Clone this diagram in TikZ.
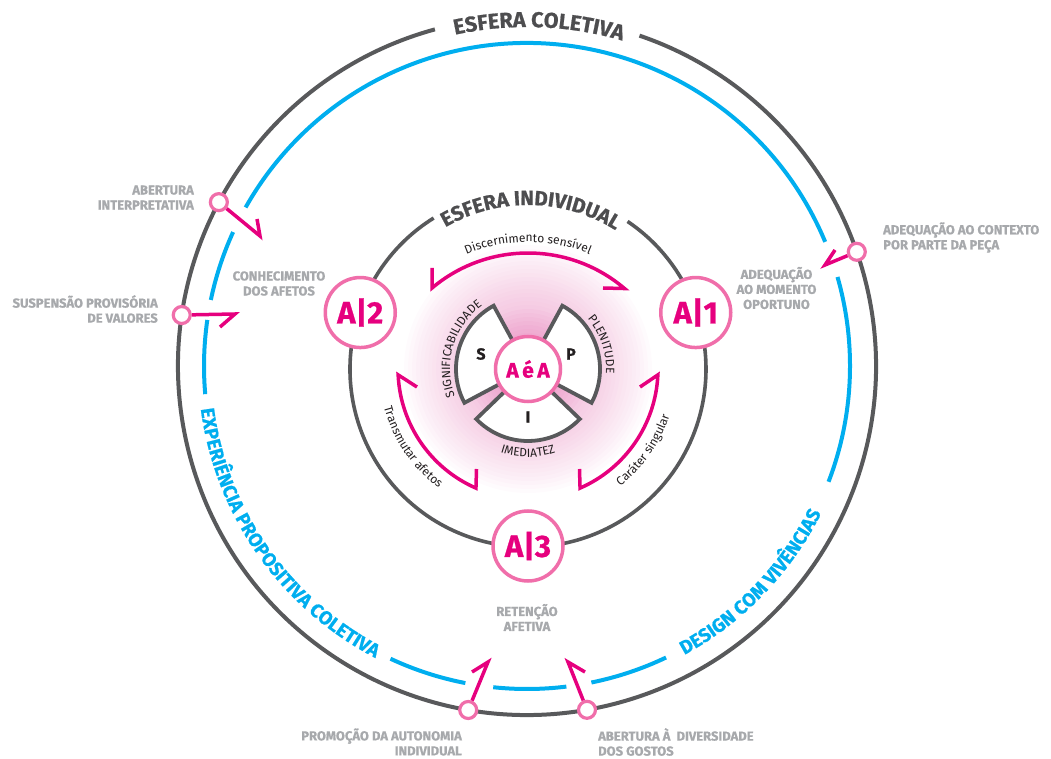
\documentclass[tikz,border=0pt]{standalone}
\usepackage{fontspec}
\setmainfont{Fira Sans}
\newfontface\heavyface{Fira Sans Bold}[FakeBold=0.8]
\usetikzlibrary{calc,decorations.text}

\definecolor{ringgray}{HTML}{58595B}
\definecolor{ringblue}{HTML}{00AEEF}
\definecolor{mag}{HTML}{E6007E}
\definecolor{nodepink}{HTML}{F06EAA}
\definecolor{labelgray}{HTML}{A7A9AC}
\definecolor{inkdark}{HTML}{231F20}
\definecolor{titlegray}{HTML}{4D4D4F}
\definecolor{glowA}{HTML}{E05AA5}

\newcommand\titlefont{\fontsize{21.5}{21.5}\selectfont\heavyface\color{titlegray}}
\newcommand\innertitlefont{\fontsize{20.5}{20.5}\selectfont\heavyface\color{titlegray}}
\newcommand\bluefont{\fontsize{19}{19}\selectfont\heavyface\color{ringblue}}
\newcommand\arcfont{\fontsize{12}{12}\selectfont\color{inkdark}}

\begin{document}
\begin{tikzpicture}[x=1pt,y=1pt,
  ring/.style={draw=ringgray, line width=4},
  bluering/.style={draw=ringblue, line width=4},
  pinkline/.style={draw=mag, line width=3.5, line join=miter, line cap=butt},
  sector/.style={draw=ringgray, line width=3.8, fill=white, line join=miter},
  anode/.style={circle, draw=nodepink, line width=3.5, fill=white, minimum size=70,
    inner sep=0, text=mag, font=\fontsize{31}{31}\selectfont\heavyface},
  corenode/.style={circle, draw=nodepink, line width=3.5, fill=white, minimum size=65,
    inner sep=0, text=mag, font=\fontsize{21}{21}\selectfont\heavyface},
  marker/.style={circle, draw=nodepink, line width=3.2, fill=white, minimum size=17, inner sep=0},
  lbl/.style={text=labelgray, font=\fontsize{13}{15}\selectfont\heavyface, inner sep=0},
  seclbl/.style={text=inkdark, font=\fontsize{16}{16}\selectfont\heavyface, inner sep=0},
  arctext/.style={decorate, decoration={text along path, text align=center, text={#1}}}
]
\useasboundingbox (0,0) rectangle (1051,758);

% centres of the rings
\coordinate (C0) at (527,392);
\coordinate (C1) at (528,389);
\coordinate (C3) at (528,356);

% soft pink glow around the core, built from faint stacked discs
\foreach \r in {124,120,...,64}
  \fill[glowA, fill opacity=0.025] (C1) circle[radius=\r];
\foreach \r in {60,56,...,8}
  \fill[glowA, fill opacity=0.05] (C1) circle[radius=\r];

% collective sphere: grey ring with a gap for its title
\draw[ring] ([shift={(C0)}]105.3:349) arc[start angle=105.3, end angle=431.2, radius=349];

% blue ring, broken where arrows and labels pass
\foreach \a/\b in {22.6/150.6, 155.5/168.2, 171.8/185, 245/259, 264/277, 281.5/295.5, 339/376}
  \draw[bluering] ([shift={(C0)}]\a:323) arc[start angle=\a, end angle=\b, radius=323];

% individual sphere
\draw[ring, line width=3.6] ([shift={(C1)}]122:178) arc[start angle=122, end angle=416, radius=178];

% ring titles
\path[arctext={|\titlefont|ESFERA COLETIVA}]
  ([shift={(C0)}]125:339) arc[start angle=125, end angle=51, radius=339];
\path[arctext={|\innertitlefont|ESFERA INDIVIDUAL}]
  ([shift={(C1)}]128:164) arc[start angle=128, end angle=50, radius=164];
\path[arctext={|\bluefont|EXPERIÊNCIA PROPOSITIVA COLETIVA}]
  ([shift={(C0)}]178:329) arc[start angle=178, end angle=252, radius=329];
\path[arctext={|\bluefont|DESIGN COM VIVÊNCIAS}]
  ([shift={(C0)}]288:329) arc[start angle=288, end angle=344, radius=329];

% labels along the three cycle arrows
\path[arctext={|\arcfont|Discernimento sensível}]
  ([shift={(C3)}]125:160) arc[start angle=125, end angle=55, radius=160];
\path[arctext={|\arcfont|Transmutar afetos}]
  ([shift={(C1)}]182:149) arc[start angle=182, end angle=246, radius=149];
\path[arctext={|\arcfont|Caráter singular}]
  ([shift={(C1)}]293:149) arc[start angle=293, end angle=357, radius=149];

% labels around the core sectors
\path[arctext={|\arcfont|SIGNIFICABILIDADE}]
  ([shift={(C1)}]215:78) arc[start angle=215, end angle=111, radius=78];
\path[arctext={|\arcfont|PLENITUDE}]
  ([shift={(C1)}]62:78) arc[start angle=62, end angle=-25, radius=78];
\path[arctext={|\arcfont|IMEDIATEZ}]
  ([shift={(C1)}]232:88) arc[start angle=232, end angle=308, radius=88];

% cycle arrows (single-barb heads at both ends)
\coordinate (tb1) at (432,490);
\coordinate (tb2) at (603,470);
\coordinate (lb1) at (417,371);
\coordinate (lb2) at (476.5,289);
\coordinate (rb1) at (640,371);
\coordinate (rb2) at (579.5,289);
\draw[pinkline] (tb1) -- ($(C3)+(130.1:149)$) arc[start angle=130.1, end angle=49.6, radius=149] -- (tb2);
\draw[pinkline] (lb1) -- ($(C1)+(182.6:130)$) arc[start angle=182.6, end angle=246.4, radius=130] -- (lb2);
\draw[pinkline] (rb1) -- ($(C1)+(-2.6:130)$) arc[start angle=-2.6, end angle=-66.4, radius=130] -- (rb2);

% core sectors S, P, I
\draw[sector] ($(C1)+(118.5:30)$) arc[start angle=118.5, end angle=208, radius=30]
  -- ($(C1)+(208:72)$) arc[start angle=208, end angle=118.5, radius=72] -- cycle;
\draw[sector] ($(C1)+(-28:30)$) arc[start angle=-28, end angle=61.5, radius=30]
  -- ($(C1)+(61.5:72)$) arc[start angle=61.5, end angle=-28, radius=72] -- cycle;
\draw[sector] ($(C1)+(224:30)$) arc[start angle=224, end angle=316, radius=30]
  -- ($(C1)+(316:72)$) arc[start angle=316, end angle=224, radius=72] -- cycle;
\node[seclbl] (secS) at ($(C1)+(-47,15)$) {S};
\node[seclbl] (secP) at ($(C1)+(43,15)$) {P};
\node[seclbl] (secI) at ($(C1)+(0,-48)$) {I};

\node[corenode] (core) at (C1) {A\kern3.5pt é\kern3.5pt A};

% stages on the individual sphere
\node[anode] (a1) at ($(C1)+(18.6:177)$) {A|1};
\node[anode] (a2) at ($(C1)+(161.4:177)$) {A|2};
\node[anode] (a3) at ($(C1)+(270:177)$) {A|3};

% markers on the collective sphere and their arrows
\node[marker] (m1) at ($(C0)+(152:349)$) {};
\node[marker] (m2) at ($(C0)+(171.6:349)$) {};
\node[marker] (m3) at ($(C0)+(19.1:349)$) {};
\node[marker] (m4) at ($(C0)+(260.3:349)$) {};
\node[marker] (m5) at ($(C0)+(279.9:349)$) {};
\coordinate (t1) at (260,522);  \coordinate (b1) at (257,539);
\coordinate (t2) at (235,444);  \coordinate (b2) at (220,431);
\coordinate (t3) at (825,493);  \coordinate (b3) at (835,508);
\coordinate (t4) at (488,96);   \coordinate (b4) at (472,86);
\coordinate (t5) at (568,96);   \coordinate (b5) at (585,86);
\draw[pinkline] (m1) -- (t1) -- (b1);
\draw[pinkline] (m2) -- (t2) -- (b2);
\draw[pinkline] (m3) -- (t3) -- (b3);
\draw[pinkline] (m4) -- (t4) -- (b4);
\draw[pinkline] (m5) -- (t5) -- (b5);

% grey labels
\node[lbl, align=right, anchor=east] (l1) at (194,560.5) {ABERTURA\\INTERPRETATIVA};
\node[lbl, align=right, anchor=east] (l2) at (158,449) {SUSPENSÃO PROVISÓRIA\\DE VALORES};
\node[lbl, align=center] (l3) at (279,474.5) {CONHECIMENTO\\DOS AFETOS};
\node[lbl, align=left, anchor=west] (l4) at (883,520.5) {ADEQUAÇÃO AO CONTEXTO\\POR PARTE DA PEÇA};
\node[lbl, align=center] (l5) at (776.5,470) {ADEQUAÇÃO\\AO MOMENTO\\OPORTUNO};
\node[lbl, align=center] (l6) at (527,140.5) {RETENÇÃO\\AFETIVA};
\node[lbl, align=right, anchor=east] (l7) at (462,16) {PROMOÇÃO DA AUTONOMIA\\INDIVIDUAL};
\node[lbl, align=left, anchor=west] (l8) at (598,16) {ABERTURA À\ \ DIVERSIDADE\\DOS GOSTOS};
\end{tikzpicture}
\end{document}
